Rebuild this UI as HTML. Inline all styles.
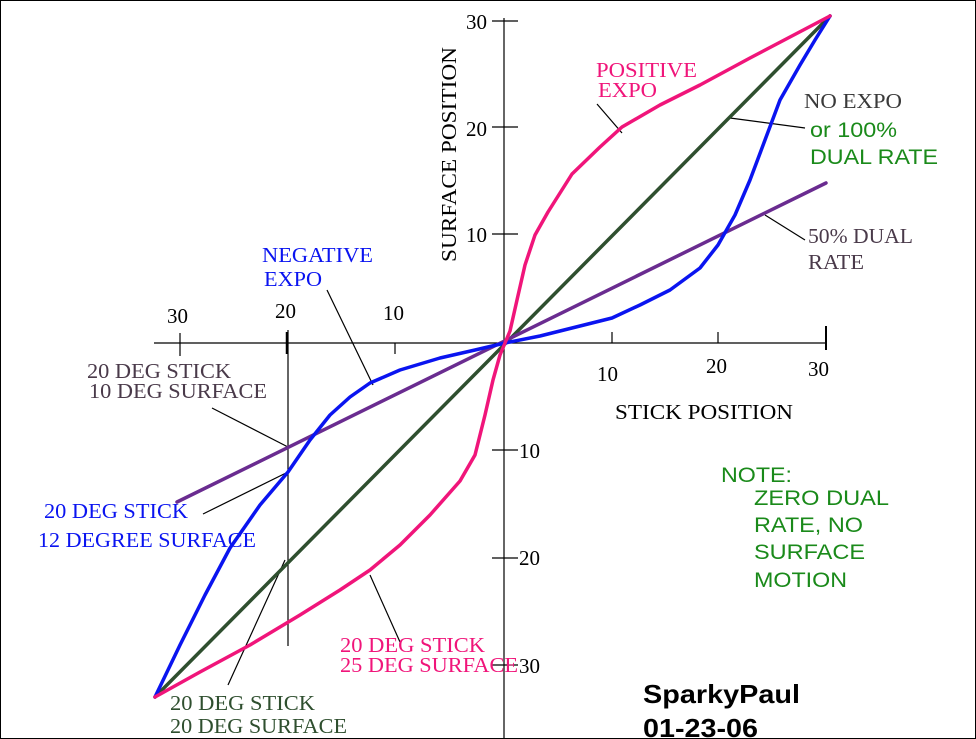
<!DOCTYPE html>
<html><head><style>
body{margin:0;background:#fff}
svg{display:block}
.s{font-family:"Liberation Serif",serif;font-size:21px}
.a{font-family:"Liberation Sans",sans-serif;font-size:21px}
</style></head><body>
<svg width="976" height="739" viewBox="0 0 976 739">
<rect x="0.5" y="0.5" width="975" height="738" fill="#fff" stroke="#000"/>
<g stroke="#000" stroke-width="1.2" fill="none">
<line x1="504" y1="18" x2="504" y2="739"/>
<line x1="154" y1="343" x2="826" y2="343"/>
<line x1="826" y1="326" x2="826" y2="350" stroke-width="2"/>
<line x1="718" y1="332" x2="718" y2="343"/>
<line x1="612" y1="332" x2="612" y2="343"/>
<line x1="180" y1="333" x2="180" y2="356"/>
<line x1="288" y1="330" x2="288" y2="646"/>
<line x1="287" y1="332" x2="287" y2="354" stroke-width="2.5"/>
<line x1="395" y1="343" x2="395" y2="354"/>
<line x1="492" y1="21" x2="518" y2="21"/>
<line x1="492" y1="127" x2="518" y2="127"/>
<line x1="492" y1="234" x2="518" y2="234"/>
<line x1="492" y1="450" x2="518" y2="450"/>
<line x1="492" y1="558" x2="518" y2="558"/>
<line x1="492" y1="665" x2="518" y2="665"/>
<line x1="597" y1="104" x2="622" y2="133"/>
<line x1="730" y1="118" x2="805" y2="128"/>
<line x1="765" y1="215" x2="805" y2="240"/>
<line x1="327" y1="290" x2="373" y2="385"/>
<line x1="212" y1="408" x2="288" y2="447"/>
<line x1="203" y1="514" x2="288" y2="472"/>
<line x1="370" y1="575" x2="400" y2="642"/>
<line x1="228" y1="685" x2="285" y2="560"/>
</g>
<g fill="none" stroke-width="3.5" stroke-linecap="round" stroke-linejoin="round">
<line x1="155" y1="697" x2="830" y2="16" stroke="#2f4f2f"/>
<line x1="177" y1="502" x2="826" y2="183" stroke="#6a2c90"/>
<polyline points="155,697 180,645 205,595 230,548 260,505 288,472 310,440 330,415 350,397 370,383 400,370 440,358 475,350 505,343 540,336 580,326 612,318 640,305 670,290 700,268 718,245 735,215 750,180 765,140 780,100 800,65 815,40 830,16" stroke="#0a14f0"/>
<polyline points="155,697 200,672 250,645 300,615 340,590 370,570 400,545 430,515 460,481 475,455 485,415 493,380 500,355 505,343 510,331 517,300 525,265 535,235 548,212 572,174 600,147 622,127 660,105 700,85 750,58 790,37 830,16" stroke="#f0157a"/>
</g>
<g class="s" fill="#000">
<text x="466" y="29">30</text><text x="466" y="136">20</text><text x="466" y="242">10</text>
<text x="519" y="458">10</text><text x="519" y="565">20</text><text x="519" y="673">30</text>
<text x="167" y="323">30</text><text x="275" y="318">20</text><text x="383" y="320">10</text>
<text x="597" y="381">10</text><text x="706" y="373">20</text><text x="808" y="376">30</text>
<text x="615" y="419" textLength="178" lengthAdjust="spacingAndGlyphs">STICK POSITION</text>
<text transform="translate(456,262) rotate(-90)" textLength="215" lengthAdjust="spacingAndGlyphs">SURFACE POSITION</text>
</g>
<g class="s" lengthAdjust="spacingAndGlyphs">
<text x="596" y="77" fill="#f0157a" textLength="101" lengthAdjust="spacingAndGlyphs">POSITIVE</text>
<text x="598" y="97" fill="#f0157a" textLength="59" lengthAdjust="spacingAndGlyphs">EXPO</text>
<text x="804" y="108" fill="#3a3a3a" textLength="98" lengthAdjust="spacingAndGlyphs">NO EXPO</text>
<text x="808" y="243" fill="#4a3a4a" textLength="105" lengthAdjust="spacingAndGlyphs">50% DUAL</text>
<text x="808" y="269" fill="#4a3a4a" textLength="56" lengthAdjust="spacingAndGlyphs">RATE</text>
<text x="262" y="262" fill="#0a14f0" textLength="111" lengthAdjust="spacingAndGlyphs">NEGATIVE</text>
<text x="264" y="286" fill="#0a14f0" textLength="58" lengthAdjust="spacingAndGlyphs">EXPO</text>
<text x="87" y="378" fill="#4a3a4a" textLength="144" lengthAdjust="spacingAndGlyphs">20 DEG STICK</text>
<text x="89" y="398" fill="#4a3a4a" textLength="178" lengthAdjust="spacingAndGlyphs">10 DEG SURFACE</text>
<text x="44" y="518" fill="#0a14f0" textLength="144" lengthAdjust="spacingAndGlyphs">20 DEG STICK</text>
<text x="38" y="547" fill="#0a14f0" textLength="218" lengthAdjust="spacingAndGlyphs">12 DEGREE SURFACE</text>
<text x="340" y="652" fill="#f0157a" textLength="145" lengthAdjust="spacingAndGlyphs">20 DEG STICK</text>
<text x="340" y="672" fill="#f0157a" textLength="178" lengthAdjust="spacingAndGlyphs">25 DEG SURFACE</text>
<text x="170" y="710" fill="#2f4f2f" textLength="145" lengthAdjust="spacingAndGlyphs">20 DEG STICK</text>
<text x="170" y="733" fill="#2f4f2f" textLength="177" lengthAdjust="spacingAndGlyphs">20 DEG SURFACE</text>
</g>
<g class="a" fill="#1a8a1a">
<text x="810" y="137" textLength="87" lengthAdjust="spacingAndGlyphs">or 100%</text>
<text x="810" y="164" textLength="128" lengthAdjust="spacingAndGlyphs">DUAL RATE</text>
<text x="721" y="482" textLength="71" lengthAdjust="spacingAndGlyphs">NOTE:</text>
<text x="754" y="505" textLength="135" lengthAdjust="spacingAndGlyphs">ZERO DUAL</text>
<text x="754" y="532" textLength="109" lengthAdjust="spacingAndGlyphs">RATE, NO</text>
<text x="754" y="559" textLength="111" lengthAdjust="spacingAndGlyphs">SURFACE</text>
<text x="754" y="587" textLength="93" lengthAdjust="spacingAndGlyphs">MOTION</text>
</g>
<g font-family="Liberation Sans,sans-serif" font-weight="bold" font-size="26" fill="#000">
<text x="643" y="703" textLength="157" lengthAdjust="spacingAndGlyphs">SparkyPaul</text>
<text x="643" y="737" textLength="115" lengthAdjust="spacingAndGlyphs">01-23-06</text>
</g>
</svg>
</body></html>
